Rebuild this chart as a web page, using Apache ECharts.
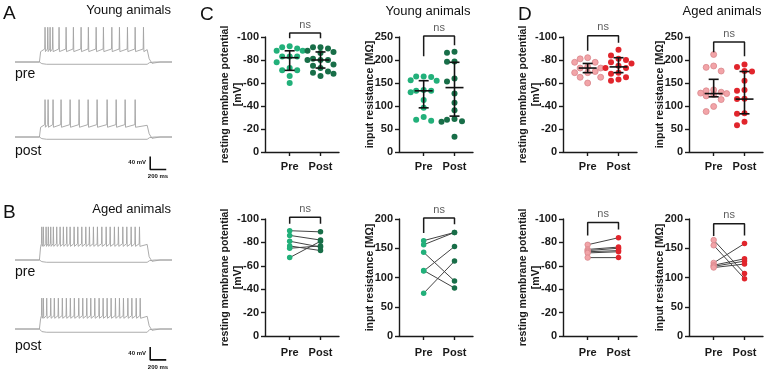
<!DOCTYPE html>
<html>
<head>
<meta charset="utf-8">
<script src="https://cdn.jsdelivr.net/npm/echarts@6/dist/echarts.min.js"></script>
<style>
  html, body { margin: 0; padding: 0; background: #fff; }
  #main { width: 767px; height: 372px; }
</style>
</head>
<body>
<div id="main"></div>
<script>
// ---------- A / B: example sweeps (time in ms, voltage in mV) ----------
const sweepEnd = 1960;
const stepOn = 305;
const stepOff = 1650;
// spike times
const youngPreSpikes = [375, 409, 438, 471, 550, 638, 729, 825, 916, 1013, 1104, 1209, 1304, 1404, 1500, 1604];
const youngPostSpikes = [375, 413, 475, 575, 688, 800, 913, 1025, 1150, 1263, 1375, 1500];
const agedPreSpikes = [334, 354, 388, 416, 446, 479, 521, 563, 604, 646, 688, 738, 784, 834, 884, 929, 979,
    1029, 1084, 1138, 1188, 1241, 1291, 1346, 1396, 1450, 1500, 1554];
const agedPostSpikes = [334, 354, 396, 446, 491, 541, 591, 641, 691, 741, 796, 846, 896, 946, 996, 1050,
    1100, 1150, 1200, 1254, 1304, 1354, 1409, 1459, 1513, 1563];
// rest, plateau, spike peak, hyperpolarised step
const youngPreLevels = [-70, -34, 37, -77];
const youngPostLevels = [-70, -36, 45, -77];
const agedPreLevels = [-70, -24, 32, -77];
const agedPostLevels = [-70, -33, 25, -80];
// scale bar: [time, lower voltage], 200 ms x 40 mV
const scaleBarA = [1688, -170];
const scaleBarB = [1688, -165];

// ---------- C / D: scatter plots ----------
const groups = ['Pre', 'Post'];
const youngRmpPre = [-92, -91, -90, -88, -88, -83, -83, -83, -78, -73, -71, -71, -66, -60];
const youngRmpPost = [-91, -91, -90, -88, -87, -86, -81, -80, -80, -80, -76, -75, -73, -70, -69, -68, -66];
const youngRinPre = [164, 164, 163, 156, 155, 135, 133, 133, 130, 113, 96, 76, 70, 68];
const youngRinPost = [218, 216, 197, 196, 160, 153, 127, 107, 91, 72, 70, 67, 66, 33];
const agedRmpPre = [-82, -81, -78, -78, -74, -73, -73, -70, -69, -69, -65, -65, -60];
const agedRmpPost = [-89, -84, -81, -80, -78, -77, -75, -73, -73, -69, -68, -65, -63, -62];
const agedRinPre = [212, 187, 184, 176, 135, 133, 130, 128, 127, 125, 122, 114, 99, 88];
const agedRinPost = [190, 185, 176, 175, 155, 135, 133, 116, 115, 84, 83, 66, 58];

// centre, lower, upper  (Pre, Post)
const youngRmpBars = [[-82, -71, -88], [-80, -73, -87]];
const youngRinBars = [[133, 96, 155], [140, 78, 195]];
const agedRmpBars = [[-73, -69, -77], [-74, -69, -82]];
const agedRinBars = [[127, 120, 158], [115, 83, 175]];

// paired cells (bottom row)
const youngRmpPairPre = [-90, -86, -81, -77, -75, -67];
const youngRmpPairPost = [-89, -82, -76, -73, -77, -81];
const youngRinPairPre = [163, 156, 143, 112, 111, 73];
const youngRinPairPost = [177, 177, 94, 82, 153, 128];
const agedRmpPairPre = [-78, -74, -73, -72, -71, -67];
const agedRmpPairPost = [-84, -76, -75, -73, -72, -67];
const agedRinPairPre = [164, 155, 125, 121, 119, 117];
const agedRinPairPost = [107, 98, 158, 132, 128, 123];

// "ns" brackets: Pre leg end, bracket level, Post leg end
const youngRmpNs = [-99, -103.5, -99];
const youngRinNs = [208, 252, 232];
const agedRmpNs = [-88, -101, -95];
const agedRinNs = [217, 239, 208];
const youngRmpPairNs = [-96, -101.5, -96];
const youngRinPairNs = [176, 201.5, 191];
const agedRmpPairNs = [-86, -97, -91];
const agedRinPairNs = [171, 192, 172];

// ---------- styling ----------
const font = '"Liberation Sans", Arial, sans-serif';
const ink = '#1a1a1a';
const young = ['#22b07a', '#186e48'];
const aged = ['#f2a4a8', '#e1252c'];
const traceColor = '#a3a3a3';

const chart = echarts.init(document.getElementById('main'));

const grids = [], xAxes = [], yAxes = [], series = [];

const statCols = [265, 399, 563, 689];
const statW = 74;
const xMin = -0.8, xMax = 1.6;

function statGrid(col, top, height, kind, yMax, labelMargin) {
    const gi = grids.length;
    const rmp = kind === 'rmp';
    grids.push({ left: statCols[col], top: top, width: statW, height: height });
    xAxes.push({
        gridIndex: gi, type: 'value', min: xMin, max: xMax,
        axisLine: { show: true, onZero: false, lineStyle: { color: ink, width: 1.4 } },
        axisTick: { show: true, customValues: [0, 1], length: 4, lineStyle: { color: ink, width: 1.4 } },
        axisLabel: {
            customValues: [0, 1], formatter: v => groups[v] || '', margin: labelMargin,
            color: ink, fontSize: 11, fontWeight: 'bold', fontFamily: font
        },
        splitLine: { show: false }
    });
    yAxes.push({
        gridIndex: gi, type: 'value',
        min: rmp ? -100 : 0, max: rmp ? 0 : yMax, interval: rmp ? 20 : 50, inverse: rmp,
        name: rmp ? 'resting membrane potential\n[mV]' : 'input resistance [MΩ]',
        nameLocation: 'middle', nameGap: rmp ? 20 : 22, nameRotate: 90, nameMoveOverlap: false,
        nameTextStyle: { color: ink, fontSize: 10.5, fontWeight: 'bold', fontFamily: font, lineHeight: 13 },
        axisLine: { show: true, onZero: false, lineStyle: { color: ink, width: 1.4 } },
        axisTick: { show: true, length: 4, lineStyle: { color: ink, width: 1.4 } },
        axisLabel: { margin: 6, color: ink, fontSize: 11, fontWeight: 'bold', fontFamily: font },
        splitLine: { show: false }
    });
    return gi;
}

// spread dots sideways into a few lanes (pixels), as the plotting program does
function swarm(values, centre, pxX, pxY) {
    const placed = [];
    const lanes = [0, -7.5, 7.5, -13, 13];
    const minD = 5.8;
    return values.map(v => {
        const y = v * pxY;
        let best = 0, bestD = -1;
        for (const off of lanes) {
            const d = placed.reduce((m, p) => Math.min(m, Math.hypot(p[0] - off, p[1] - y)), Infinity);
            if (d >= minD) { best = off; break; }
            if (d > bestD) { bestD = d; best = off; }
        }
        placed.push([best, y]);
        return [centre + best / pxX, v];
    });
}

function renderBar(params, api) {
    const x = api.value(0);
    const pm = api.coord([x, api.value(1)]);
    const pl = api.coord([x, api.value(2)]);
    const ph = api.coord([x, api.value(3)]);
    const w = 9, c = 5;
    const style = { stroke: '#111', lineWidth: 1.6 };
    return {
        type: 'group', children: [
            { type: 'line', shape: { x1: pl[0], y1: pl[1], x2: ph[0], y2: ph[1] }, style },
            { type: 'line', shape: { x1: pm[0] - w, y1: pm[1], x2: pm[0] + w, y2: pm[1] }, style },
            { type: 'line', shape: { x1: pl[0] - c, y1: pl[1], x2: pl[0] + c, y2: pl[1] }, style },
            { type: 'line', shape: { x1: ph[0] - c, y1: ph[1], x2: ph[0] + c, y2: ph[1] }, style }
        ]
    };
}

function bracket(gi, ns) {
    series.push({
        type: 'line', xAxisIndex: gi, yAxisIndex: gi, clip: false, silent: true, symbol: 'none', z: 6,
        data: [[0, ns[0]], [0, ns[1]], [1, ns[1]], [1, ns[2]]],
        lineStyle: { color: ink, width: 1.5 }
    });
    series.push({
        type: 'scatter', xAxisIndex: gi, yAxisIndex: gi, clip: false, silent: true, symbolSize: 0, z: 6,
        data: [[0.5, ns[1]]],
        label: { show: true, position: 'top', distance: 3, formatter: 'ns', color: '#333', fontSize: 11, fontFamily: font }
    });
}

function dotStyle(colors, i) {
    return i === 0 && colors === aged
        ? { color: colors[i], borderColor: '#d9868b', borderWidth: 0.8, opacity: 1 }
        : { color: colors[i], opacity: 1 };
}

function scatterPanel(col, kind, yMax, pre, post, bars, ns, colors) {
    const top = 37, height = 115;
    const gi = statGrid(col, top, height, kind, yMax, 9);
    const pxX = statW / (xMax - xMin);
    const pxY = height / (kind === 'rmp' ? 100 : yMax);
    [pre, post].forEach((vals, i) => {
        series.push({
            type: 'scatter', xAxisIndex: gi, yAxisIndex: gi, symbolSize: 6, z: 3,
            data: swarm(vals, i, pxX, pxY),
            itemStyle: dotStyle(colors, i)
        });
    });
    series.push({
        type: 'custom', xAxisIndex: gi, yAxisIndex: gi, renderItem: renderBar, z: 5,
        data: bars.map((b, i) => [i, b[0], b[1], b[2]]),
        encode: { x: 0, y: [1, 2, 3] }
    });
    bracket(gi, ns);
}

function pairedPanel(col, kind, yMax, pre, post, ns, colors) {
    const gi = statGrid(col, 219, 117, kind, yMax, 11);
    pre.forEach((v, i) => {
        series.push({
            type: 'line', xAxisIndex: gi, yAxisIndex: gi, symbol: 'none', z: 2, silent: true,
            data: [[0, v], [1, post[i]]],
            lineStyle: { color: '#444', width: 1 }
        });
    });
    [pre, post].forEach((vals, i) => {
        series.push({
            type: 'scatter', xAxisIndex: gi, yAxisIndex: gi, symbolSize: 5.5, z: 3,
            data: vals.map(v => [i, v]),
            itemStyle: dotStyle(colors, i)
        });
    });
    bracket(gi, ns);
}

scatterPanel(0, 'rmp', 0, youngRmpPre, youngRmpPost, youngRmpBars, youngRmpNs, young);
scatterPanel(1, 'rin', 250, youngRinPre, youngRinPost, youngRinBars, youngRinNs, young);
scatterPanel(2, 'rmp', 0, agedRmpPre, agedRmpPost, agedRmpBars, agedRmpNs, aged);
scatterPanel(3, 'rin', 250, agedRinPre, agedRinPost, agedRinBars, agedRinNs, aged);

pairedPanel(0, 'rmp', 0, youngRmpPairPre, youngRmpPairPost, youngRmpPairNs, young);
pairedPanel(1, 'rin', 200, youngRinPairPre, youngRinPairPost, youngRinPairNs, young);
pairedPanel(2, 'rmp', 0, agedRmpPairPre, agedRmpPairPost, agedRmpPairNs, aged);
pairedPanel(3, 'rin', 200, agedRinPairPre, agedRinPairPost, agedRinPairNs, aged);

// ---------- sweeps ----------
function spikingSweep(spikes, lv) {
    const [rest, plateau, peak] = lv;
    const pts = [[0, rest], [stepOn, rest], [stepOn + 15, plateau - 4]];
    spikes.forEach(t => {
        pts.push([t - 4, plateau + 4], [t, peak], [t + 5, plateau - 4]);
    });
    pts.push([stepOff, plateau + 2], [stepOff + 25, rest + 10], [stepOff + 60, rest - 4],
        [stepOff + 160, rest], [sweepEnd, rest]);
    return pts;
}

function quietSweep(lv) {
    const [rest, , , hyper] = lv;
    return [[0, rest], [stepOn, rest], [stepOn + 30, hyper + 2], [stepOn + 90, hyper], [stepOff, hyper],
        [stepOff + 30, rest - 2], [stepOff + 90, rest], [sweepEnd, rest]];
}

function sweepGrid(top, spikes, lv, bar) {
    const gi = grids.length;
    grids.push({ left: 15, top: top, width: 157, height: 45.5 });
    xAxes.push({ gridIndex: gi, type: 'value', min: 0, max: sweepEnd, show: false });
    yAxes.push({ gridIndex: gi, type: 'value', min: -90, max: 50, show: false });
    [quietSweep(lv), spikingSweep(spikes, lv)].forEach(d => {
        series.push({
            type: 'line', xAxisIndex: gi, yAxisIndex: gi, data: d, showSymbol: false, symbol: 'none',
            silent: true, lineStyle: { color: traceColor, width: 0.9 }
        });
    });
    if (bar) {
        series.push({
            type: 'line', xAxisIndex: gi, yAxisIndex: gi, symbol: 'none', clip: false, silent: true,
            data: [[bar[0], bar[1] + 40], [bar[0], bar[1]], [bar[0] + 200, bar[1]]],
            lineStyle: { color: '#111', width: 1.6 }
        });
    }
}

sweepGrid(23, youngPreSpikes, youngPreLevels, null);
sweepGrid(98, youngPostSpikes, youngPostLevels, scaleBarA);
sweepGrid(221, agedPreSpikes, agedPreLevels, null);
sweepGrid(290, agedPostSpikes, agedPostLevels, scaleBarB);

function txt(text, x, y, size, opts) {
    return {
        type: 'text', x: x, y: y, silent: true,
        style: Object.assign({
            text: text, fontSize: size, fontFamily: font, fill: '#111',
            align: 'left', verticalAlign: 'middle'
        }, opts || {})
    };
}

const option = {
    animation: false,
    backgroundColor: '#fff',
    grid: grids,
    xAxis: xAxes,
    yAxis: yAxes,
    series: series,
    graphic: [
        txt('A', 3, 14, 19),
        txt('B', 3, 213, 19),
        txt('C', 200, 15, 19),
        txt('D', 518, 15, 19),
        txt('Young animals', 171, 10, 13, { align: 'right' }),
        txt('Aged animals', 171, 209, 13, { align: 'right' }),
        txt('Young animals', 428, 11, 13, { align: 'center' }),
        txt('Aged animals', 722, 11, 13, { align: 'center' }),
        txt('pre', 15, 74, 14),
        txt('post', 15, 151, 14),
        txt('pre', 15, 272, 14),
        txt('post', 15, 346, 14),
        txt('40 mV', 146, 162, 6, { align: 'right', fontWeight: 'bold' }),
        txt('200 ms', 158, 176, 6, { align: 'center', fontWeight: 'bold' }),
        txt('40 mV', 146, 353, 6, { align: 'right', fontWeight: 'bold' }),
        txt('200 ms', 158, 367, 6, { align: 'center', fontWeight: 'bold' })
    ]
};

chart.setOption(option);
window.addEventListener('resize', function () {
    chart.resize();
});
</script>
</body>
</html>
